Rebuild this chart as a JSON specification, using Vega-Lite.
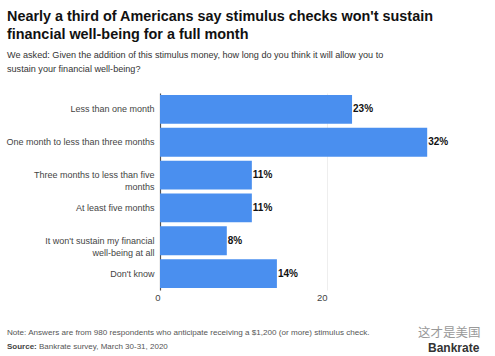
{
  "$schema": "https://vega.github.io/schema/vega-lite/v6.json",
  "width": 334,
  "height": 197,
  "autosize": {"type": "none"},
  "padding": {"left": 160, "top": 93, "right": 1, "bottom": 66},
  "background": "white",
  "config": {"view": {"stroke": null}, "font": "Liberation Sans"},
  "title": {
    "text": ["Nearly a third of Americans say stimulus checks won't sustain", "financial well-being for a full month"],
    "subtitle": ["We asked: Given the addition of this stimulus money, how long do you think it will allow you to", "sustain your financial well-being?"],
    "anchor": "start",
    "frame": "group",
    "dx": -153,
    "offset": 18,
    "font": "Liberation Sans",
    "fontSize": 14.4,
    "fontWeight": "bold",
    "color": "#111111",
    "lineHeight": 18,
    "subtitleFont": "Liberation Sans",
    "subtitleFontSize": 9.1,
    "subtitleColor": "#333333",
    "subtitleLineHeight": 13.5,
    "subtitlePadding": 9
  },
  "data": {
    "values": [
      {"answer": "Less than one month", "pct": 23, "label": "23%"},
      {"answer": "One month to less than three months", "pct": 32, "label": "32%"},
      {"answer": "Three months to less than five months", "pct": 11, "label": "11%"},
      {"answer": "At least five months", "pct": 11, "label": "11%"},
      {"answer": "It won't sustain my financial well-being at all", "pct": 8, "label": "8%"},
      {"answer": "Don't know", "pct": 14, "label": "14%"}
    ]
  },
  "encoding": {
    "y": {
      "field": "answer",
      "type": "nominal",
      "sort": null,
      "scale": {"paddingInner": 0.12, "paddingOuter": 0.06},
      "axis": {
        "title": null,
        "ticks": false,
        "domainColor": "#555555",
        "domainWidth": 1.2,
        "labelFontSize": 9,
        "labelColor": "#444444",
        "labelPadding": 6,
        "labelLimit": 200,
        "labelExpr": "datum.value == 'Three months to less than five months' ? ['Three months to less than five', 'months'] : datum.value == \"It won't sustain my financial well-being at all\" ? [\"It won't sustain my financial\", 'well-being at all'] : datum.value",
        "labelLineHeight": 12
      }
    }
  },
  "layer": [
    {
      "mark": {"type": "bar", "color": "#4A8FEF"},
      "encoding": {
        "x": {
          "field": "pct",
          "type": "quantitative",
          "scale": {"domain": [0, 40]},
          "axis": {
            "title": null,
            "values": [0, 20],
            "domain": false,
            "ticks": false,
            "gridColor": "#eeeeee",
            "labelFontSize": 9.5,
            "labelColor": "#444444",
            "labelAlign": "right",
            "labelDx": -2,
            "labelPadding": 2
          }
        }
      }
    },
    {
      "mark": {"type": "text", "align": "left", "dx": 1, "fontWeight": "bold", "fontSize": 10, "color": "#111111"},
      "encoding": {
        "x": {"field": "pct", "type": "quantitative"},
        "text": {"field": "label"}
      }
    },
    {
      "data": {"values": [{"t": "Note: Answers are from 980 respondents who anticipate receiving a $1,200 (or more) stimulus check."}]},
      "mark": {"type": "text", "align": "left", "baseline": "middle", "fontSize": 8.1, "color": "#555555", "x": -153},
      "encoding": {"text": {"field": "t"}, "y": {"value": 240}}
    },
    {
      "data": {"values": [{"t": "Source:"}]},
      "mark": {"type": "text", "align": "left", "baseline": "middle", "fontSize": 8, "fontWeight": "bold", "color": "#444444", "x": -153},
      "encoding": {"text": {"field": "t"}, "y": {"value": 254}}
    },
    {
      "data": {"values": [{"t": "Bankrate survey, March 30-31, 2020"}]},
      "mark": {"type": "text", "align": "left", "baseline": "middle", "fontSize": 8, "color": "#555555", "x": -121},
      "encoding": {"text": {"field": "t"}, "y": {"value": 254}}
    },
    {
      "data": {"values": [{"t": "这才是美国"}]},
      "mark": {"type": "text", "align": "left", "baseline": "middle", "fontSize": 12.5, "font": "Noto Sans CJK SC", "color": "#999999", "x": 258},
      "encoding": {"text": {"field": "t"}, "y": {"value": 240}}
    },
    {
      "data": {"values": [{"t": "Bankrate"}]},
      "mark": {"type": "text", "align": "left", "baseline": "middle", "fontSize": 12, "fontWeight": "bold", "color": "#333333", "x": 268},
      "encoding": {"text": {"field": "t"}, "y": {"value": 255}}
    }
  ]
}
